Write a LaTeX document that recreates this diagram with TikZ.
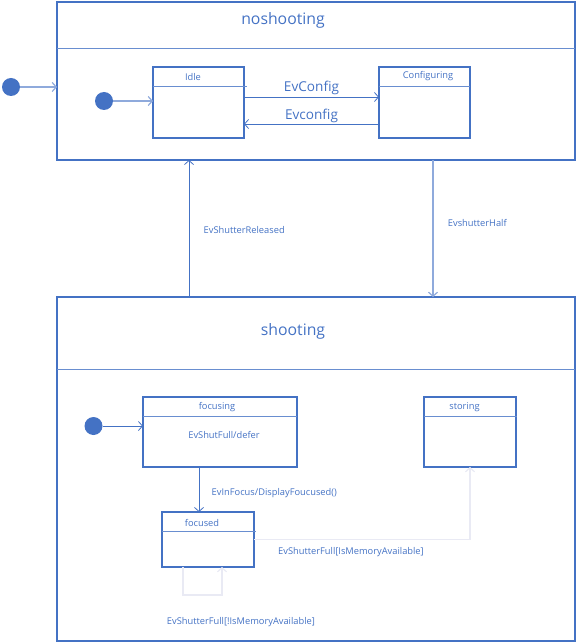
\documentclass[tikz,border=0pt]{standalone}
\usepackage{fontspec}
\setmainfont{Open Sans}
\usepackage{tikz}
\usetikzlibrary{arrows.meta}
\usetikzlibrary{positioning}
\definecolor{umlblue}{HTML}{4472C4}
\definecolor{umlpale}{HTML}{8FAADC}
\definecolor{umlghost}{HTML}{E9EAF4}
\tikzset{state/.style = {draw=umlblue, line width=1.6pt, rectangle,
                         inner sep=0pt, outer sep=0pt},
         initial/.style = {circle, fill=umlblue, minimum size=18pt,
                           inner sep=0pt, outer sep=0pt},
         divider/.style = {draw=umlblue!80, line width=0.8pt},
         trans/.style = {draw=umlblue, line width=0.8pt,
                         -{Straight Barb[length=4pt, width=9pt]}},
         pale/.style = {trans, draw=umlpale, line width=1.2pt},
         ghost/.style = {trans, draw=umlghost, line width=1.2pt},
         lbl/.style = {text=umlblue, font=\fontsize{9.3}{11}\selectfont},
         title/.style = {text=umlblue, font=\fontsize{15.8}{18}\selectfont}}

\begin{document}
\begin{tikzpicture}[x=1pt, y=-1pt]
    \useasboundingbox (0, 0) rectangle (577, 644);

    % composite states
    \node [state, minimum width=518pt, minimum height=158pt] (noshooting) at (316, 81) {};
    \draw [divider] (57, 48) -- (575, 48);
    \node [title] at (283, 20) {noshooting};
    \node [state, minimum width=518pt, minimum height=344pt] (shooting) at (316, 469) {};
    \draw [divider] (57, 369) -- (575, 369);
    \node [title] at (293, 331) {shooting};

    % inner states of noshooting
    \node [state, minimum width=91pt, minimum height=71pt] (idle) at (198.5, 102.5) {};
    \draw [divider] (153, 86) -- (247, 86);
    \node [lbl] at (193, 77) {Idle};
    \node [state, minimum width=91pt, minimum height=71pt] (configuring) at (424.5, 102.5) {};
    \draw [divider] (379, 86) -- (470, 86);
    \node [lbl] at (428, 76) {Configuring};

    % inner states of shooting
    \node [state, minimum width=154pt, minimum height=70pt] (focusing) at (220, 432) {};
    \draw [divider] (143, 416) -- (297, 416);
    \node [lbl] at (217, 407) {focusing};
    \node [lbl] at (224, 435) {EvShutFull/defer};
    \node [state, minimum width=92pt, minimum height=70pt] (storing) at (470, 432) {};
    \draw [divider] (424, 416) -- (517, 416);
    \node [lbl] at (464.5, 407) {storing};
    \node [state, minimum width=92pt, minimum height=55pt] (focused) at (208, 539.5) {};
    \draw [divider] (162, 531) -- (256, 531);
    \node [lbl] at (202, 523) {focused};

    % initial pseudostates
    \node [initial] (start) at (11, 87) {};
    \node [initial] (startidle) at (104, 101) {};
    \node [initial] (startfocus) at (93.5, 426) {};

    \draw [pale] (start) -- (start -| noshooting.west);
    \draw [pale] (startidle) -- (startidle -| idle.west);
    \draw [trans] (startfocus) -- (startfocus -| focusing.west);

    \draw [trans] ([yshift=5.5pt]idle.east) -- ([yshift=5.5pt]configuring.west)
        node [midway, above=-2pt, text=umlblue, font=\fontsize{13.6}{16}\selectfont] {EvConfig};
    \draw [trans] ([yshift=-21.5pt]configuring.west) -- ([yshift=-21.5pt]idle.east)
        node [midway, above=-3pt, text=umlblue, font=\fontsize{13.6}{16}\selectfont] {Evconfig};

    \draw [trans] ([xshift=-127pt]shooting.north) -- ([xshift=-127pt]noshooting.south)
        node [midway, anchor=west, xshift=11pt, yshift=-1.5pt, lbl] {EvShutterReleased};
    \draw [pale] ([xshift=117pt]noshooting.south) -- ([xshift=117pt]shooting.north)
        node [midway, anchor=west, xshift=11pt, yshift=6pt, lbl] {EvshutterHalf};

    \draw [trans] ([xshift=-21pt]focusing.south) coordinate (f1) -- (f1 |- focused.north)
        node [midway, anchor=west, xshift=9pt, yshift=-3.5pt, lbl] {EvInFocus/DisplayFoucused()};
    \draw [ghost] (focused.east) -| (storing.south)
        node [pos=0.25, yshift=-13pt, xshift=-11pt, lbl] {EvShutterFull[IsMemoryAvailable]};
    \draw [ghost] ([xshift=-25pt]focused.south) -- ++(0, 28)
        node [anchor=west, xshift=-20pt, yshift=-27pt, lbl] {EvShutterFull[!IsMemoryAvailable]}
        -| ([xshift=14pt]focused.south);
  \end{tikzpicture}
\end{document}
